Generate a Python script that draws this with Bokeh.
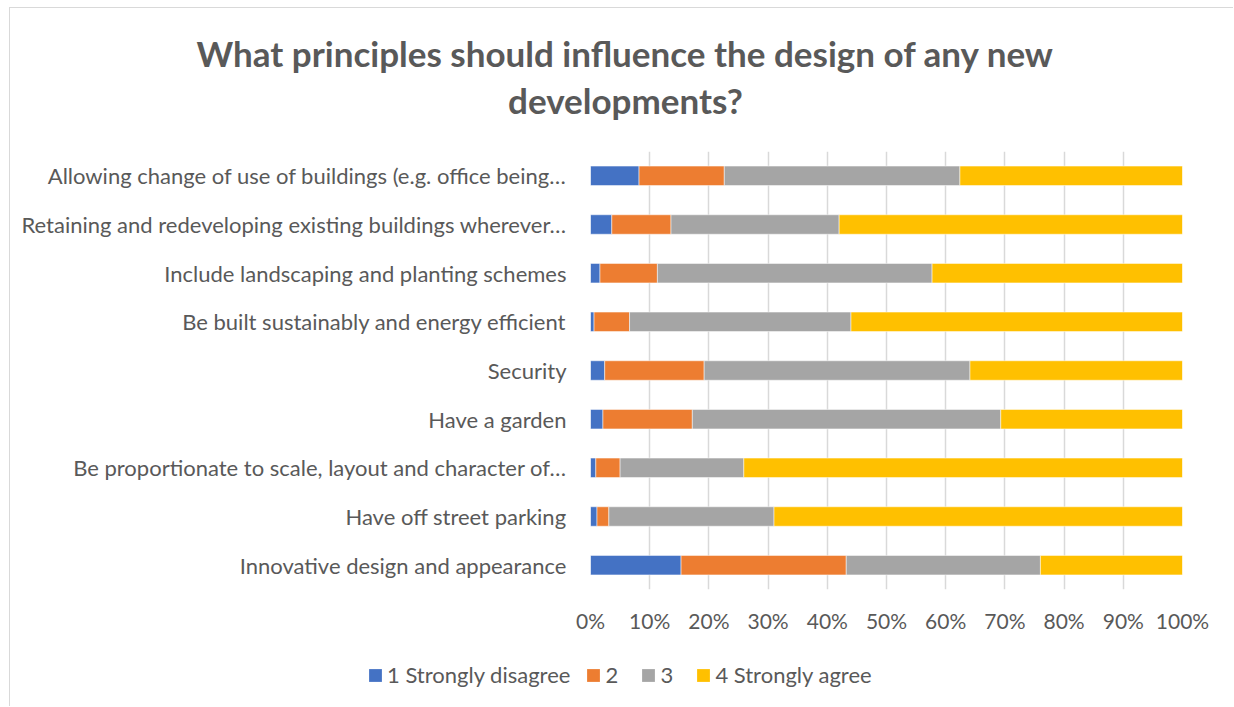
from bokeh.plotting import figure
from bokeh.models import Range1d, Label, Legend, LegendItem, NumeralTickFormatter, FixedTicker
from bokeh.embed import file_html
from bokeh.resources import INLINE

categories = [
    "Allowing change of use of buildings (e.g. office being…",
    "Retaining and redeveloping existing buildings wherever…",
    "Include landscaping and planting schemes",
    "Be built sustainably and energy efficient",
    "Security",
    "Have a garden",
    "Be proportionate to scale, layout and character of…",
    "Have off street parking",
    "Innovative design and appearance",
]
s1 = [8.2, 3.6, 1.6, 0.6, 2.4, 2.1, 0.9, 1.1, 15.3]
s2 = [14.4, 10.0, 9.7, 6.0, 16.8, 15.1, 4.1, 2.0, 27.9]
s3 = [39.8, 28.4, 46.4, 37.4, 44.9, 52.1, 20.9, 27.9, 32.8]
s4 = [37.6, 58.0, 42.3, 56.0, 35.9, 30.7, 74.1, 69.0, 24.0]
series_names = ["1 Strongly disagree", "2", "3", "4 Strongly agree"]
colors = ["#4472C4", "#ED7D31", "#A5A5A5", "#FFC000"]
title_lines = ["What principles should influence the design of any new", "developments?"]
ticks = [0, 0.1, 0.2, 0.3, 0.4, 0.5, 0.6, 0.7, 0.8, 0.9, 1.0]

FONT = "Lato"
TXT = "#595959"
W = 1224
BORDER = "1px solid #d9d9d9"
NAN = float("nan")


def blank(h, styles):
    f = figure(width=W, height=h, x_range=Range1d(0, W), y_range=Range1d(0, h),
               output_backend="svg", toolbar_location=None,
               min_border=0, min_border_left=0, min_border_right=0,
               min_border_top=0, min_border_bottom=0, styles=styles)
    f.axis.visible = False
    f.grid.grid_line_color = None
    f.outline_line_color = None
    return f


# ---- title ----
pt = blank(144, {"border-left": BORDER, "border-top": BORDER,
                 "margin-left": "9px", "margin-top": "7px"})
for line, yy in zip(title_lines, [100, 53]):
    pt.add_layout(Label(x=615, y=yy, text=line, text_align="center", text_baseline="middle",
                        text_font=FONT, text_font_style="bold", text_font_size="35px",
                        text_color=TXT))

# ---- main chart ----
p = figure(width=W, height=488, y_range=list(reversed(categories)),
           x_range=Range1d(0, 1), output_backend="svg", toolbar_location=None,
           min_border_left=580, min_border_right=52, min_border_top=0, min_border_bottom=50,
           styles={"border-left": BORDER, "margin-left": "9px"})
p.outline_line_color = None

data = {"cat": categories}
names = ["a", "b", "c", "d"]
for n, s in zip(names, [s1, s2, s3, s4]):
    data[n] = [v / 100 for v in s]

renderers = p.hbar_stack(names, y="cat", height=0.4, color=colors, source=data,
                         line_color="white", line_width=0.5)

p.xaxis.ticker = FixedTicker(ticks=ticks)
p.xaxis.formatter = NumeralTickFormatter(format="0%")
for ax in [p.xaxis[0], p.yaxis[0]]:
    ax.axis_line_color = None
    ax.major_tick_line_color = None
    ax.minor_tick_line_color = None
    ax.major_label_text_font = FONT
    ax.major_label_text_color = TXT
    ax.major_label_text_font_size = "21px"
p.yaxis.major_label_text_font_size = "22px"
p.xaxis.major_label_standoff = 12
p.yaxis.major_label_standoff = 18
p.ygrid.grid_line_color = None
p.xgrid.grid_line_color = "#d9d9d9"
p.xgrid.grid_line_width = 1.5

# ---- legend (swatch-only renderers: one NaN row each, so nothing is drawn in the plot) ----
pl = blank(67, {"border-left": BORDER, "margin-left": "9px"})
dummies = [pl.quad(left=[NAN], right=[NAN], bottom=[NAN], top=[NAN],
                   fill_color=c, line_color=None) for c in colors]
legend = Legend(items=[LegendItem(label=n, renderers=[r]) for n, r in zip(series_names, dummies)],
                orientation="horizontal", location=(357, 18), border_line_color=None,
                background_fill_alpha=0, padding=0, margin=0, spacing=15,
                label_text_font=FONT, label_text_font_size="22px", label_text_color=TXT,
                glyph_width=16, glyph_height=16, label_standoff=4)
pl.add_layout(legend, "center")

open("out.html", "w").write(file_html([pt, p, pl], INLINE))
